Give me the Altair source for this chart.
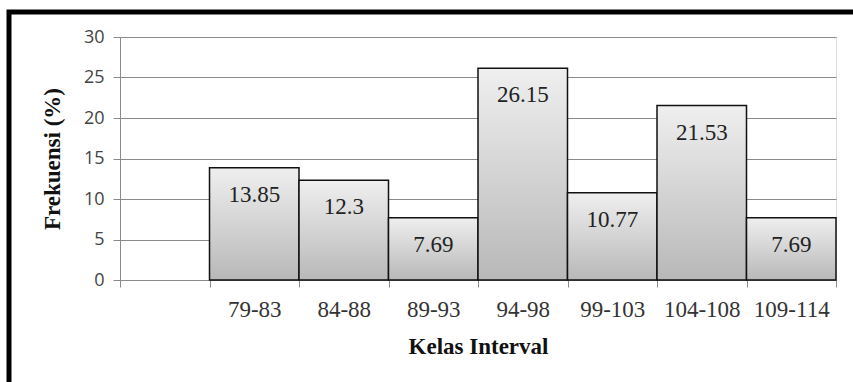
import altair as alt
import pandas as pd

kategori = ["79-83", "84-88", "89-93", "94-98", "99-103", "104-108", "109-114"]
frekuensi = [13.85, 12.3, 7.69, 26.15, 10.77, 21.53, 7.69]
domain_x = [" "] + kategori
y_ticks = [0, 5, 10, 15, 20, 25, 30]

df = pd.DataFrame({"kelas": kategori, "frek": frekuensi})

W, H = 716, 243

x_enc = alt.X(
    "kelas:N",
    sort=domain_x,
    scale=alt.Scale(domain=domain_x, paddingInner=0, paddingOuter=0),
    axis=alt.Axis(
        title="Kelas Interval",
        labelAngle=0,
        tickBand="extent",
        tickSize=7,
        tickColor="#8a8a8a",
        domainColor="#8a8a8a",
        labelFont="Liberation Serif",
        labelFontSize=23,
        labelColor="#333333",
        labelPadding=11,
        titleFont="Liberation Serif",
        titleFontSize=23,
        titleFontWeight="bold",
        titleColor="#111111",
        titleX=W / 2,
        titleY=66,
        titleBaseline="middle",
        titleAlign="center",
        grid=False,
    ),
)

y_enc = alt.Y(
    "frek:Q",
    scale=alt.Scale(domain=[0, 30], nice=False),
    axis=alt.Axis(
        title="Frekuensi (%)",
        values=y_ticks,
        tickSize=7,
        tickColor="#8a8a8a",
        domainColor="#8a8a8a",
        gridColor="#8a8a8a",
        gridWidth=1,
        labelFont="Open Sans",
        labelFontSize=18,
        labelColor="#444444",
        labelPadding=9,
        titleFont="Liberation Serif",
        titleFontSize=23,
        titleFontWeight="bold",
        titleColor="#111111",
        titleAngle=270,
        titleX=-68,
        titleY=H / 2,
        titleBaseline="middle",
        titleAlign="center",
    ),
)

bars = alt.Chart(df).mark_bar(
    fill=alt.Gradient(
        gradient="linear",
        stops=[
            alt.GradientStop(color="#efefef", offset=0),
            alt.GradientStop(color="#b8b8b8", offset=1),
        ],
        x1=0, x2=0, y1=0, y2=1,
    ),
    stroke="#111111",
    strokeWidth=1.5,
).encode(x=x_enc, y=y_enc)

labels = alt.Chart(df).mark_text(
    baseline="middle",
    dy=27,
    font="Liberation Serif",
    fontSize=23,
    color="#222222",
).encode(
    x=alt.X("kelas:N", sort=domain_x),
    y=alt.Y("frek:Q"),
    text=alt.Text("frek:Q"),
)

frame = alt.Chart(pd.DataFrame({"a": [0]})).mark_rect(
    fillOpacity=0,
    stroke="#000000",
    strokeWidth=5,
).encode(
    x=alt.value(-111),
    x2=alt.value(780),
    y=alt.value(-25),
    y2=alt.value(400),
)

chart = alt.layer(bars, labels, frame).properties(
    width=W,
    height=H,
    autosize=alt.AutoSizeParams(type="none"),
    padding={"left": 120, "top": 37, "right": 17, "bottom": 102},
).configure_view(stroke=None).configure(background="white")

chart.save("out.html", embed_options={"renderer": "svg", "actions": False})
